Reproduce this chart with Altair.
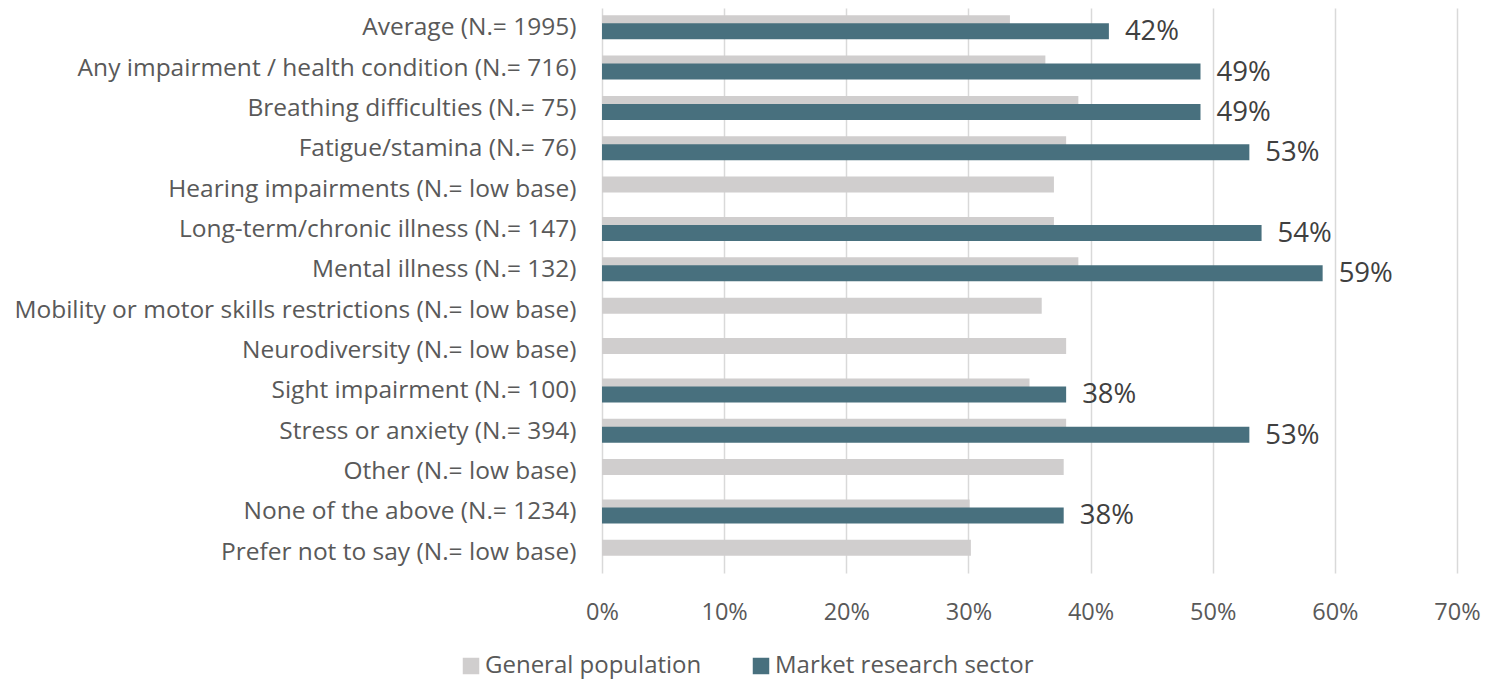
import altair as alt
import pandas as pd

categories = [
    "Average (N.= 1995)",
    "Any impairment / health condition (N.= 716)",
    "Breathing difficulties (N.= 75)",
    "Fatigue/stamina (N.= 76)",
    "Hearing impairments (N.= low base)",
    "Long-term/chronic illness (N.= 147)",
    "Mental illness (N.= 132)",
    "Mobility or motor skills restrictions (N.= low base)",
    "Neurodiversity (N.= low base)",
    "Sight impairment (N.= 100)",
    "Stress or anxiety (N.= 394)",
    "Other (N.= low base)",
    "None of the above (N.= 1234)",
    "Prefer not to say (N.= low base)",
]
general_pct = [33.4, 36.3, 39.0, 38.0, 37.0, 37.0, 39.0, 36.0, 38.0, 35.0, 38.0, 37.8, 30.1, 30.2]
market_pct = [41.5, 49.0, 49.0, 53.0, None, 54.0, 59.0, None, None, 38.0, 53.0, None, 37.8, None]
market_labels = ["42%", "49%", "49%", "53%", "", "54%", "59%", "", "", "38%", "53%", "", "38%", ""]
series_names = ["General population", "Market research sector"]
x_ticks = [0, 0.1, 0.2, 0.3, 0.4, 0.5, 0.6, 0.7]

GRAY = "#D0CECE"
TEAL = "#48707E"
FONT = "Open Sans"

df = pd.DataFrame({
    "category": categories,
    "general": [v / 100 for v in general_pct],
    "market": [None if v is None else v / 100 for v in market_pct],
    "label": market_labels,
})

y_enc = alt.Y(
    "category:N",
    sort=categories,
    title=None,
    scale=alt.Scale(paddingInner=0, paddingOuter=0),
    axis=alt.Axis(
        domain=False, ticks=False, labelPadding=26, labelFontSize=24.5,
        labelColor="#595959", labelFont=FONT, labelLimit=1000,
    ),
)
x_scale = alt.Scale(domain=[0, 0.7], nice=False)
x_axis = alt.Axis(
    values=x_ticks, format=".0%", grid=True, gridColor="#D9D9D9", gridWidth=1.5,
    domain=False, ticks=False, labelPadding=27, labelFontSize=23.5,
    labelColor="#595959", labelFont=FONT, labelFlush=False,
)
color_scale = alt.Scale(domain=series_names, range=[GRAY, TEAL])
legend = alt.Legend(
    title=None, orient="none", legendX=-143, legendY=646, direction="horizontal",
    symbolType="square", symbolSize=272, symbolStrokeWidth=0, labelFontSize=24,
    labelColor="#595959", labelFont=FONT, columnPadding=47, labelOffset=2,
    labelLimit=1000,
)

base = alt.Chart(df)

gray = base.transform_calculate(series=f"'{series_names[0]}'").mark_bar(size=16, yOffset=-5).encode(
    y=y_enc,
    x=alt.X("general:Q", scale=x_scale, axis=x_axis, title=None),
    color=alt.Color("series:N", scale=color_scale, legend=legend),
)
teal = base.transform_filter("isValid(datum.market)").transform_calculate(
    series=f"'{series_names[1]}'"
).mark_bar(size=16, yOffset=3).encode(
    y=y_enc,
    x=alt.X("market:Q", scale=x_scale, title=None),
    color=alt.Color("series:N", scale=color_scale, legend=legend),
)
labels = base.transform_filter("isValid(datum.market)").mark_text(
    align="left", baseline="middle", dx=16, yOffset=4, fontSize=27.5,
    color="#404040", font=FONT,
).encode(
    y=y_enc,
    x=alt.X("market:Q", scale=x_scale, title=None),
    text="label:N",
)

chart = alt.layer(gray, teal, labels).properties(
    width=855, height=565,
    autosize=alt.AutoSizeParams(type="none"),
    padding={"left": 594, "top": 0, "right": 24, "bottom": 116},
).configure_view(stroke=None)

chart.save("out.html", embed_options={"renderer": "svg", "actions": False})
